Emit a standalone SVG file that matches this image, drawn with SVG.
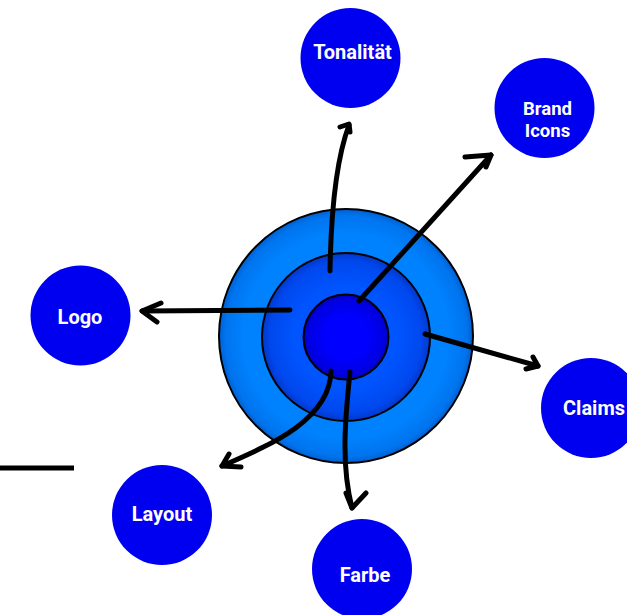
<svg xmlns="http://www.w3.org/2000/svg" width="627" height="615" viewBox="0 0 627 615">
<defs>
<radialGradient id="gOuter" cx="50%" cy="50%" r="50%">
<stop offset="0.8" stop-color="#0082FF"/>
<stop offset="0.95" stop-color="#0074EE"/>
<stop offset="1" stop-color="#0060D0"/>
</radialGradient>
<radialGradient id="gMid" cx="50%" cy="50%" r="50%">
<stop offset="0.6" stop-color="#0055FF"/>
<stop offset="0.9" stop-color="#0048EE"/>
<stop offset="1" stop-color="#0038CC"/>
</radialGradient>
<radialGradient id="gInner" cx="50%" cy="50%" r="50%">
<stop offset="0.5" stop-color="#0000FF"/>
<stop offset="0.9" stop-color="#0000E0"/>
<stop offset="1" stop-color="#0000BB"/>
</radialGradient>
<style>
.sat{fill:#0000F0;}
.lbl{font-family:Roboto,"Liberation Sans",sans-serif;font-weight:bold;font-size:20px;fill:#FFFFFF;text-anchor:middle;}
.sm{font-size:18.5px;}
.ring{stroke:#000;stroke-width:2;}
.con path{fill:none;stroke:#000;stroke-width:5;stroke-linecap:round;stroke-linejoin:round;}
</style>
</defs>
<rect width="627" height="615" fill="#FFFFFF"/>
<line x1="0" y1="468" x2="74" y2="468" stroke="#000" stroke-width="5"/>
<g id="target">
<circle class="ring" cx="346" cy="336" r="127" fill="url(#gOuter)"/>
<circle class="ring" cx="346" cy="337" r="84" fill="url(#gMid)"/>
<circle class="ring" cx="346" cy="337" r="42.5" fill="url(#gInner)"/>
</g>
<g id="tonalitaet"><circle class="sat" cx="350.5" cy="58" r="50"/><text class="lbl" x="352.5" y="59">Tonalität</text></g>
<g id="brand-icons"><circle class="sat" cx="544.5" cy="108" r="50"/><text class="lbl sm" x="547.5" y="115">Brand</text><text class="lbl sm" x="547.5" y="137">Icons</text></g>
<g id="logo"><circle class="sat" cx="80.5" cy="315.5" r="50"/><text class="lbl" x="80" y="324">Logo</text></g>
<g id="layout"><circle class="sat" cx="162" cy="515" r="50"/><text class="lbl" x="162" y="521">Layout</text></g>
<g id="claims"><circle class="sat" cx="591" cy="408" r="50"/><text class="lbl" x="563" y="415" style="text-anchor:start">Claims</text></g>
<g id="farbe"><circle class="sat" cx="362" cy="569" r="50"/><text class="lbl" x="365" y="582">Farbe</text></g>
<g id="connectors" class="con">
<path d="M330,271 C331,210 336,160 349,125"/>
<path d="M340,127 L349,124 L350,132"/>
<path d="M359,301 L491,155"/>
<path d="M465,157 L491,155 L486,167"/>
<path d="M290,310 L142,311"/>
<path d="M161,303 L142,311 L157,322"/>
<path d="M425,334 L538,366"/>
<path d="M533,357 L538,366 L526,369"/>
<path d="M331,371 C330,420 270,445 222,466"/>
<path d="M229,454 L222,466 L241,467"/>
<path d="M350,372 C345,420 341,465 352,508"/>
<path d="M346,493 L352,508 L366,493"/>
</g>
</svg>
